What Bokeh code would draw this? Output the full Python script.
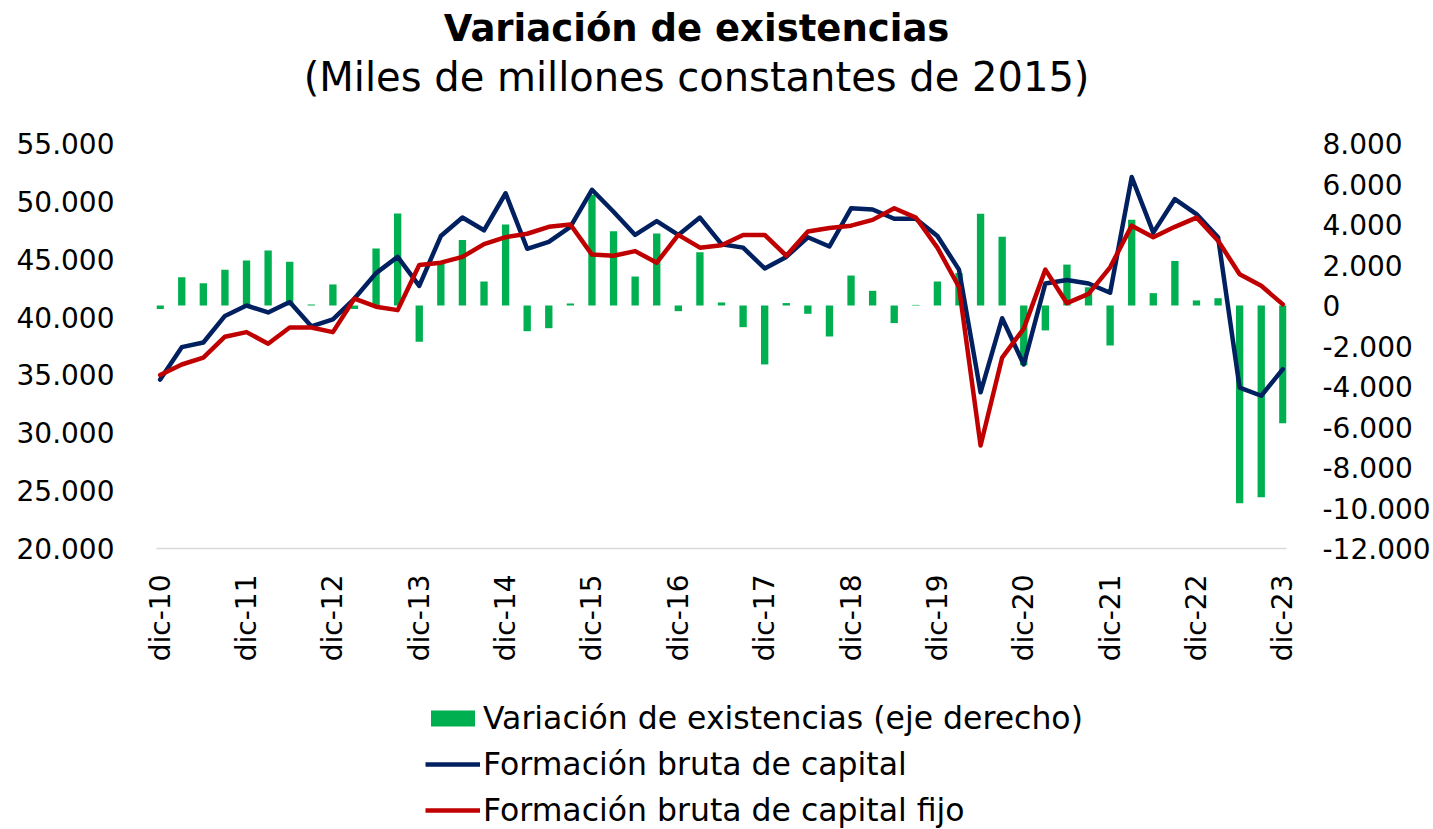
import math
from bokeh.plotting import figure
from bokeh.layouts import column
from bokeh.models import (Range1d, LinearAxis, FixedTicker, Label, Legend,
                          LegendItem, ColumnDataSource)
from bokeh.embed import file_html
from bokeh.resources import INLINE

# ---------------- data ----------------
periods = ["dic-10"] + [f"{m}-{yy}" for yy in range(11, 24)
                        for m in ("mar", "jun", "sep", "dic")]

# Formación bruta de capital (left axis)
fbk = [34600, 37400, 37800, 40100, 41000, 40400, 41300, 39200, 39800, 41600,
       43800, 45200, 42700, 47000, 48600, 47500, 50700, 45900, 46500, 47800,
       51000, 49100, 47100, 48300, 47100, 48600, 46300, 46000, 44200, 45200,
       46900, 46100, 49400, 49300, 48500, 48500, 47000, 44100, 33500, 39900,
       35900, 42900, 43200, 42900, 42100, 52100, 47300, 50200, 48900, 46900,
       33900, 33200, 35500]

# Formación bruta de capital fijo (left axis)
fbkf = [35000, 35900, 36500, 38300, 38700, 37700, 39100, 39100, 38700, 41600,
        40900, 40600, 44500, 44700, 45200, 46300, 46900, 47200, 47800, 48000,
        45400, 45300, 45700, 44700, 47100, 46000, 46200, 47100, 47100, 45300,
        47400, 47700, 47900, 48400, 49400, 48600, 46000, 42600, 28900, 36500,
        39000, 44100, 41200, 42000, 44300, 47900, 46900, 47800, 48600, 46600,
        43700, 42700, 41100]

# Variación de existencias (right axis)
ve = [-170, 1400, 1100, 1760, 2220, 2720, 2160, 50, 1040, -170,
      2810, 4540, -1790, 2060, 3240, 1185, 4000, -1270, -1120, 100,
      5470, 3670, 1430, 3555, -280, 2630, 150, -1070, -2910, 120,
      -410, -1530, 1480, 725, -870, 30, 1185, 1600, 4530, 3400,
      -2950, -1230, 2020, 900, -1975, 4230, 610, 2200, 250, 360,
      -9760, -9470, -5810]

left_ticks = [20000, 25000, 30000, 35000, 40000, 45000, 50000, 55000]
left_labels = ["20.000", "25.000", "30.000", "35.000", "40.000", "45.000",
               "50.000", "55.000"]
right_ticks = [-12000, -10000, -8000, -6000, -4000, -2000, 0, 2000, 4000,
               6000, 8000]
right_labels = ["-12.000", "-10.000", "-8.000", "-6.000", "-4.000", "-2.000",
                "0", "2.000", "4.000", "6.000", "8.000"]

title_text = "Variación de existencias"
subtitle_text = "(Miles de millones constantes de 2015)"
names = ["Variación de existencias (eje derecho)",
         "Formación bruta de capital",
         "Formación bruta de capital fijo"]

GREEN, NAVY, RED = "#00B050", "#002060", "#C00000"
FONT = "DejaVu Sans"
W = 1433
H_TOP, H_MAIN, H_LEG = 120, 570, 139
FRAME_L, FRAME_R = 156, 1290   # frames of the stacked figures line up


def blank(height):
    f = figure(width=W, height=height, output_backend="svg",
               toolbar_location=None, x_range=Range1d(FRAME_L, FRAME_R),
               y_range=Range1d(0, height), x_axis_location=None,
               y_axis_location=None, min_border=0,
               min_border_left=FRAME_L, min_border_right=W - FRAME_R)
    f.title = None
    f.outline_line_color = None
    f.xgrid.visible = False
    f.ygrid.visible = False
    return f


# ---------------- title block ----------------
pt = blank(H_TOP)
pt.add_layout(Label(x=698, y=H_TOP - 28, text=title_text, text_align="center",
                    text_baseline="middle", text_font=FONT,
                    text_font_size="37px", text_font_style="bold",
                    text_color="black"))
pt.add_layout(Label(x=698, y=H_TOP - 76, text=subtitle_text,
                    text_align="center", text_baseline="middle",
                    text_font=FONT, text_font_size="40px", text_color="black"))

# ---------------- main chart ----------------
idx = list(range(len(periods)))
src = ColumnDataSource(dict(x=idx, fbk=fbk, fbkf=fbkf, ve=ve, period=periods))

p = figure(width=W, height=H_MAIN, output_backend="svg", toolbar_location=None,
           x_range=Range1d(-0.17, len(periods) - 1 + 0.17),
           y_range=Range1d(20000, 55000),
           min_border_left=FRAME_L, min_border_right=W - FRAME_R,
           min_border_top=23, min_border_bottom=142)
p.title = None
p.extra_y_ranges = {"right": Range1d(-12000, 8000)}
p.outline_line_color = None
p.xgrid.visible = False
p.ygrid.visible = False

p.vbar(x="x", top="ve", bottom=0, width=0.34, source=src,
       y_range_name="right", fill_color=GREEN, line_color=None)
p.line(x="x", y="fbk", source=src, line_color=NAVY, line_width=4.5,
       line_join="round", line_cap="round")
p.line(x="x", y="fbkf", source=src, line_color=RED, line_width=4.5,
       line_join="round", line_cap="round")

xa = p.xaxis[0]
dic_idx = [i for i, s in enumerate(periods) if s.startswith("dic")]
xa.ticker = FixedTicker(ticks=dic_idx)
xa.major_label_overrides = {i: periods[i] for i in dic_idx}
xa.major_label_orientation = math.pi / 2
xa.axis_line_color = "#D9D9D9"
xa.axis_line_width = 1.5
xa.major_tick_line_color = None
xa.minor_tick_line_color = None
xa.major_label_standoff = 20
xa.major_label_text_font = FONT
xa.major_label_text_font_size = "28px"
xa.major_label_text_color = "black"

ya = p.yaxis[0]
ya.ticker = FixedTicker(ticks=left_ticks)
ya.major_label_overrides = dict(zip(left_ticks, left_labels))
ya.axis_line_color = None
ya.major_tick_line_color = None
ya.minor_tick_line_color = None
ya.major_label_standoff = 36
ya.major_label_text_font = FONT
ya.major_label_text_font_size = "28px"
ya.major_label_text_color = "black"

ra = LinearAxis(y_range_name="right", ticker=FixedTicker(ticks=right_ticks),
                major_label_overrides=dict(zip(right_ticks, right_labels)))
ra.axis_line_color = None
ra.major_tick_line_color = None
ra.minor_tick_line_color = None
ra.major_label_standoff = 30
ra.major_label_text_font = FONT
ra.major_label_text_font_size = "28px"
ra.major_label_text_color = "black"
p.add_layout(ra, "right")

# ---------------- legend block ----------------
# legend proxies: first data points, which fall outside this block's range
pl = blank(H_LEG)
g_bar = pl.vbar(x=idx[:1], top=ve[:1], width=0.34, fill_color=GREEN,
                line_color=None)
g_l1 = pl.line(x=idx[:2], y=fbk[:2], line_color=NAVY, line_width=4.5)
g_l2 = pl.line(x=idx[:2], y=fbkf[:2], line_color=RED, line_width=4.5)
legend = Legend(items=[LegendItem(label=names[0], renderers=[g_bar]),
                       LegendItem(label=names[1], renderers=[g_l1]),
                       LegendItem(label=names[2], renderers=[g_l2])],
                location=(425 - FRAME_L, 1), orientation="vertical",
                border_line_color=None, background_fill_alpha=0,
                padding=0, margin=0, spacing=10,
                glyph_width=55, glyph_height=20, label_standoff=3,
                label_text_font=FONT, label_text_font_size="31.5px",
                label_text_color="black")
pl.add_layout(legend, "center")

layout = column(pt, p, pl, spacing=0)
open("out.html", "w").write(file_html(layout, INLINE))
